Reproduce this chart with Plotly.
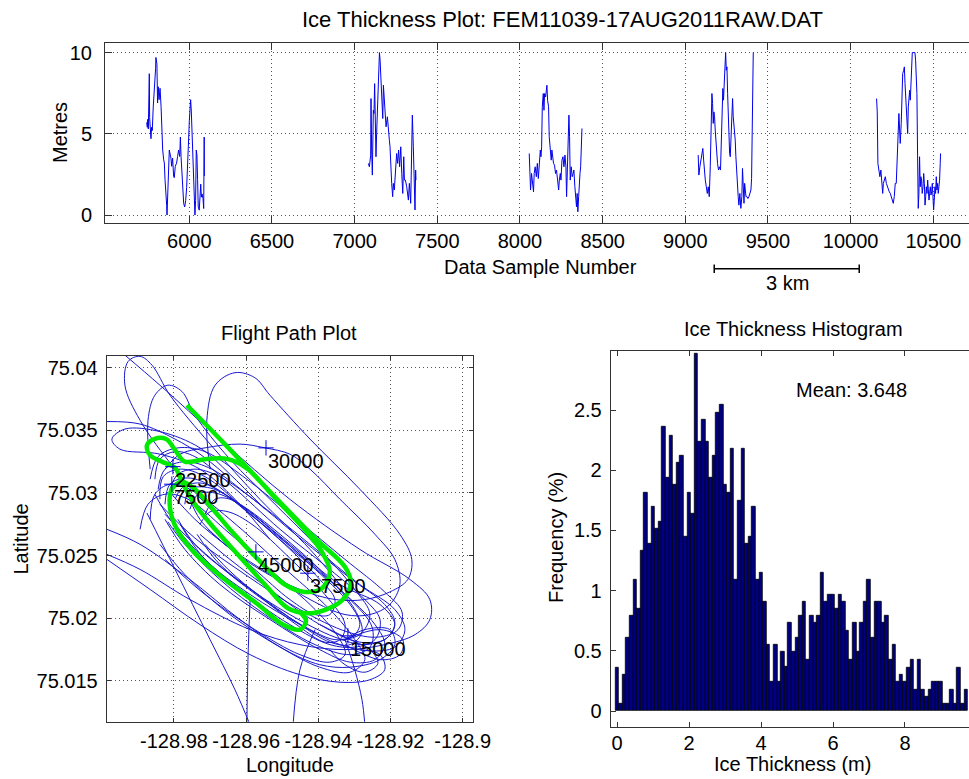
import plotly.graph_objects as go

FONT = "Liberation Sans, Arial, Helvetica, sans-serif"
W, H = 969, 779

# ---------------- Ice thickness profile (top panel) ----------------
seg1 = [(5742, 5.7), (5746, 5.4), (5749, 5.9), (5752, 5.3), (5756, 7.5), (5758, 8.7), (5760, 6.0), (5764, 5.0),
        (5768, 4.7), (5772, 5.4), (5776, 5.2), (5782, 6.7), (5788, 7.5), (5792, 8.1), (5796, 9.0), (5798, 9.7),
        (5801, 9.5), (5804, 9.3), (5808, 6.9), (5812, 7.9), (5817, 7.1), (5823, 7.8), (5829, 6.7), (5833, 5.0),
        (5839, 4.0), (5845, 3.4), (5849, 3.2), (5853, 2.2), (5859, 1.5), (5863, 0.6), (5865, 0.0), (5869, 1.1),
        (5873, 2.6), (5879, 4.0), (5885, 3.7), (5889, 3.5), (5893, 3.0), (5899, 3.5), (5905, 2.4), (5909, 2.3),
        (5915, 3.0), (5923, 3.2), (5929, 3.6), (5935, 4.0), (5942, 3.6), (5946, 4.8), (5950, 3.6), (5954, 3.0),
        (5960, 2.2), (5966, 0.7), (5972, 0.5), (5978, 0.9), (5984, 1.7), (5990, 2.8), (5994, 4.2), (6000, 5.8),
        (6004, 7.0), (6008, 7.1), (6012, 6.4), (6018, 4.9), (6022, 3.8), (6026, 2.2), (6030, 1.1), (6034, 0.0),
        (6038, 0.9), (6042, 4.0), (6046, 3.7), (6050, 2.2), (6054, 0.5), (6060, 0.3), (6065, 1.3), (6069, 1.9),
        (6073, 1.1), (6077, 1.3), (6083, 1.0), (6087, 0.4), (6090, 4.8), (6091, 2.4)]
seg2 = [(7083, 3.18), (7089, 2.97), (7097, 3.69), (7099, 7.17), (7103, 4.0), (7107, 2.46), (7113, 6.45),
        (7117, 6.25), (7121, 8.09), (7125, 4.82), (7129, 3.59), (7133, 5.02), (7137, 6.05), (7143, 8.71),
        (7150, 10.0), (7154, 9.53), (7160, 8.09), (7166, 6.86), (7170, 5.94), (7174, 7.99), (7180, 7.07),
        (7184, 6.25), (7190, 5.43), (7198, 6.05), (7204, 5.02), (7210, 4.61), (7214, 4.20), (7218, 2.97),
        (7224, 1.95), (7230, 1.13), (7234, 1.95), (7240, 1.54), (7246, 2.56), (7250, 2.97), (7254, 3.79),
        (7260, 3.18), (7266, 4.0), (7272, 2.97), (7279, 4.2), (7285, 2.56), (7291, 1.33), (7297, 3.59),
        (7301, 2.15), (7307, 2.15), (7315, 1.74), (7325, 0.92), (7331, 1.95), (7339, 0.72), (7345, 2.97),
        (7349, 6.15), (7355, 4.2), (7361, 1.54), (7365, 0.31), (7369, 2.77), (7371, 2.15)]
seg3 = [(8056, 3.79), (8060, 2.15), (8064, 1.54), (8070, 2.56), (8076, 1.74), (8082, 1.43), (8086, 2.56),
        (8092, 2.97), (8099, 2.36), (8105, 3.18), (8111, 2.25), (8117, 3.18), (8123, 4.0), (8127, 3.59),
        (8131, 4.2), (8135, 6.66), (8141, 7.48), (8145, 6.45), (8149, 7.48), (8155, 7.27), (8159, 7.68),
        (8163, 7.99), (8167, 7.07), (8173, 6.66), (8177, 4.82), (8183, 4.2), (8189, 3.38), (8193, 4.0),
        (8197, 3.59), (8203, 3.18), (8209, 3.07), (8215, 2.56), (8221, 2.77), (8228, 1.95), (8234, 1.54),
        (8238, 2.15), (8244, 2.56), (8248, 2.15), (8254, 3.38), (8260, 3.59), (8266, 2.97), (8272, 3.69),
        (8278, 2.97), (8282, 1.13), (8286, 2.36), (8292, 3.59), (8296, 6.15), (8300, 4.82), (8304, 2.15),
        (8310, 2.97), (8316, 2.36), (8322, 2.56), (8326, 2.77), (8332, 1.74), (8338, 0.92), (8342, 0.51),
        (8346, 1.33), (8350, 0.2), (8355, 1.13), (8359, 2.15), (8363, 2.56), (8367, 2.97), (8371, 4.0),
        (8375, 5.33)]
seg4 = [(9078, 3.69), (9082, 2.46), (9088, 2.97), (9094, 3.38), (9100, 3.69), (9106, 4.1), (9111, 3.38),
        (9115, 2.56), (9121, 2.15), (9127, 1.74), (9133, 1.33), (9139, 1.74), (9145, 1.13), (9151, 2.97),
        (9157, 5.64), (9161, 7.48), (9165, 6.86), (9169, 5.64), (9173, 6.35), (9177, 6.05), (9181, 5.23),
        (9185, 4.61), (9189, 3.59), (9195, 3.18), (9201, 2.77), (9207, 2.97), (9213, 2.77), (9219, 4.82),
        (9223, 6.66), (9227, 7.79), (9231, 7.07), (9235, 8.40), (9240, 9.53), (9244, 10.0), (9248, 8.91),
        (9252, 9.12), (9256, 7.48), (9260, 6.05), (9264, 4.61), (9268, 3.79), (9272, 3.59), (9276, 4.61),
        (9280, 6.05), (9286, 7.17), (9290, 6.05), (9294, 5.64), (9298, 5.23), (9302, 4.61), (9306, 3.59),
        (9310, 2.56), (9316, 2.15), (9320, 1.13), (9324, 0.61), (9330, 1.33), (9336, 0.41), (9342, 1.13),
        (9346, 2.87), (9350, 1.74), (9355, 0.72), (9359, 1.95), (9363, 1.54), (9367, 1.13), (9373, 1.13),
        (9379, 1.02), (9385, 1.13), (9391, 1.33), (9397, 1.54), (9401, 2.25), (9405, 4.61), (9409, 7.68),
        (9411, 10.0)]
seg5 = [(10157, 7.17), (10161, 6.35), (10165, 3.18), (10171, 2.56), (10177, 2.36), (10183, 2.77), (10188, 1.74),
        (10194, 1.33), (10198, 1.95), (10204, 2.15), (10210, 2.36), (10216, 1.95), (10222, 1.74), (10228, 1.54),
        (10234, 1.43), (10240, 1.33), (10246, 1.13), (10252, 1.02), (10258, 0.72), (10264, 1.13), (10270, 1.95),
        (10276, 1.95), (10280, 2.77), (10286, 4.61), (10292, 6.25), (10296, 5.23), (10300, 4.41), (10306, 5.64),
        (10310, 7.07), (10315, 8.71), (10321, 8.91), (10325, 9.12), (10329, 8.09), (10333, 7.27), (10337, 6.66),
        (10341, 6.05), (10345, 5.02), (10349, 6.66), (10353, 7.17), (10357, 7.68), (10361, 7.07), (10365, 8.50),
        (10369, 9.53), (10373, 10.0), (10379, 10.0), (10385, 10.0), (10389, 10.0), (10393, 9.53), (10397, 8.30),
        (10401, 7.48), (10405, 3.69), (10409, 0.41), (10413, 1.33), (10417, 3.59), (10421, 1.74), (10425, 2.36),
        (10429, 2.15), (10433, 1.33), (10438, 1.74), (10442, 2.56), (10446, 1.95), (10450, 0.61), (10454, 1.13),
        (10458, 1.74), (10462, 1.33), (10466, 2.15), (10470, 1.54), (10474, 0.92), (10478, 1.33), (10482, 1.74),
        (10486, 1.23), (10490, 1.43), (10494, 1.95), (10498, 1.13), (10502, 0.31), (10506, 0.92), (10510, 1.74),
        (10514, 1.33), (10518, 2.36), (10522, 1.54), (10526, 1.95), (10530, 1.33), (10534, 1.74), (10538, 2.15),
        (10542, 3.18), (10544, 3.79)]
profile_segments = [seg1, seg2, seg3, seg4, seg5]
sample_ticks = [6000, 6500, 7000, 7500, 8000, 8500, 9000, 9500, 10000, 10500]
sample_ticktext = ["6000", "6500", "7000", "7500", "8000", "8500", "9000", "9500", "10000", "10500"]
metre_ticks = [0, 5, 10]
scale_bar_samples = [9175, 10052]   # 3 km

# ---------------- Flight path (lon, lat) ----------------
flight_loops = [
    [(-128.9936, 75.0410), (-128.9839, 75.0386), (-128.9673, 75.0343), (-128.9479, 75.0295), (-128.9285, 75.0255),
     (-128.9146, 75.0231), (-128.9091, 75.0215), (-128.9091, 75.0199), (-128.9132, 75.0187), (-128.9216, 75.0179),
     (-128.9326, 75.0175), (-128.9451, 75.0179), (-128.9589, 75.0191), (-128.9756, 75.0215), (-128.9894, 75.0239),
     (-128.9986, 75.0251)],
    [(-128.9700, 75.0319), (-128.9709, 75.0358), (-128.9686, 75.0386), (-128.9631, 75.0396), (-128.9576, 75.0392),
     (-128.9534, 75.0378), (-128.9423, 75.0343), (-128.9285, 75.0303), (-128.9174, 75.0267), (-128.9141, 75.0247),
     (-128.9152, 75.0231), (-128.9202, 75.0221), (-128.9271, 75.0215), (-128.9354, 75.0215), (-128.9451, 75.0223),
     (-128.9562, 75.0239), (-128.9659, 75.0259), (-128.9728, 75.0279), (-128.9756, 75.0295)],
    [(-128.9548, 75.0287), (-128.9645, 75.0315), (-128.9728, 75.0336), (-128.9839, 75.0349), (-128.9936, 75.0351),
     (-128.9972, 75.0343), (-128.9950, 75.0335), (-128.9839, 75.0331), (-128.9728, 75.0319), (-128.9631, 75.0295),
     (-128.9534, 75.0263)],
    [(-128.9673, 75.0279), (-128.9797, 75.0319), (-128.9894, 75.0358), (-128.9936, 75.0386), (-128.9927, 75.0405),
     (-128.9894, 75.0409), (-128.9861, 75.0402), (-128.9811, 75.0378), (-128.9700, 75.0339), (-128.9562, 75.0295),
     (-128.9423, 75.0255), (-128.9340, 75.0227)],
    [(-128.9853, 75.0311), (-128.9839, 75.0327), (-128.9797, 75.0333), (-128.9742, 75.0329), (-128.9645, 75.0307),
     (-128.9506, 75.0271), (-128.9368, 75.0239), (-128.9271, 75.0215), (-128.9229, 75.0199), (-128.9243, 75.0183),
     (-128.9299, 75.0177), (-128.9368, 75.0179), (-128.9479, 75.0195), (-128.9617, 75.0223), (-128.9728, 75.0251),
     (-128.9811, 75.0279), (-128.9853, 75.0299)],
    [(-128.9839, 75.0295), (-128.9830, 75.0313), (-128.9783, 75.0319), (-128.9714, 75.0313), (-128.9603, 75.0287),
     (-128.9479, 75.0256), (-128.9340, 75.0223), (-128.9243, 75.0195), (-128.9216, 75.0179), (-128.9243, 75.0167),
     (-128.9312, 75.0165), (-128.9396, 75.0175), (-128.9534, 75.0199), (-128.9673, 75.0227), (-128.9770, 75.0255),
     (-128.9825, 75.0279)],
    [(-128.9866, 75.0279), (-128.9853, 75.0299), (-128.9811, 75.0307), (-128.9756, 75.0303), (-128.9645, 75.0279),
     (-128.9506, 75.0243), (-128.9368, 75.0207), (-128.9299, 75.0183), (-128.9271, 75.0167), (-128.9312, 75.0157),
     (-128.9396, 75.0161), (-128.9506, 75.0177), (-128.9645, 75.0203), (-128.9770, 75.0235), (-128.9839, 75.0259)],
    [(-128.9811, 75.0303), (-128.9789, 75.0315), (-128.9742, 75.0319), (-128.9673, 75.0313), (-128.9562, 75.0291),
     (-128.9423, 75.0259), (-128.9285, 75.0227), (-128.9188, 75.0207), (-128.9160, 75.0191), (-128.9188, 75.0177),
     (-128.9257, 75.0174), (-128.9340, 75.0179), (-128.9451, 75.0195), (-128.9589, 75.0219), (-128.9714, 75.0247),
     (-128.9783, 75.0275)],
    [(-128.9797, 75.0295), (-128.9778, 75.0304), (-128.9728, 75.0308), (-128.9659, 75.0299), (-128.9548, 75.0275),
     (-128.9423, 75.0243), (-128.9312, 75.0211), (-128.9285, 75.0195), (-128.9307, 75.0185), (-128.9354, 75.0183),
     (-128.9423, 75.0191), (-128.9534, 75.0211), (-128.9645, 75.0235), (-128.9742, 75.0259), (-128.9789, 75.0279)],
    [(-128.9714, 75.0283), (-128.9686, 75.0295), (-128.9645, 75.0295), (-128.9589, 75.0283), (-128.9493, 75.0259),
     (-128.9396, 75.0231), (-128.9354, 75.0215), (-128.9368, 75.0203), (-128.9409, 75.0203), (-128.9479, 75.0215),
     (-128.9576, 75.0239), (-128.9659, 75.0259), (-128.9706, 75.0271)],
    [(-128.9825, 75.0319), (-128.9783, 75.0331), (-128.9714, 75.0336), (-128.9617, 75.0339), (-128.9548, 75.0336),
     (-128.9479, 75.0331), (-128.9423, 75.0319), (-128.9340, 75.0295), (-128.9243, 75.0267), (-128.9188, 75.0247),
     (-128.9174, 75.0227), (-128.9202, 75.0211), (-128.9257, 75.0203), (-128.9326, 75.0203), (-128.9423, 75.0215),
     (-128.9534, 75.0235), (-128.9645, 75.0256), (-128.9742, 75.0279), (-128.9806, 75.0299)],
    [(-128.9986, 75.0271), (-128.9894, 75.0259), (-128.9756, 75.0231), (-128.9617, 75.0199), (-128.9493, 75.0175),
     (-128.9396, 75.0163), (-128.9312, 75.0161), (-128.9229, 75.0167), (-128.9188, 75.0179), (-128.9202, 75.0191),
     (-128.9271, 75.0191), (-128.9326, 75.0183)],
    [(-128.9986, 75.0247), (-128.9866, 75.0223), (-128.9728, 75.0195), (-128.9589, 75.0171), (-128.9451, 75.0155),
     (-128.9340, 75.0149), (-128.9257, 75.0151), (-128.9216, 75.0159), (-128.9229, 75.0171), (-128.9285, 75.0175)],
    [(-128.9326, 75.0183), (-128.9299, 75.0159), (-128.9279, 75.0135), (-128.9271, 75.0115)],
    [(-128.9409, 75.0191), (-128.9451, 75.0159), (-128.9470, 75.0115)],
    [(-128.9589, 75.0215), (-128.9595, 75.0167), (-128.9598, 75.0115)],
    [(-128.9986, 75.0357), (-128.9894, 75.0355), (-128.9797, 75.0343), (-128.9728, 75.0331), (-128.9659, 75.0315)],
    [(-128.9875, 75.0284), (-128.9797, 75.0239), (-128.9700, 75.0183), (-128.9631, 75.0143), (-128.9589, 75.0115)],
    [(-128.9396, 75.0195), (-128.9312, 75.0183), (-128.9257, 75.0175), (-128.9235, 75.0164), (-128.9271, 75.0157),
     (-128.9326, 75.0163), (-128.9368, 75.0175)],
    [(-128.9326, 75.0183), (-128.9229, 75.0191), (-128.9166, 75.0183), (-128.9174, 75.0171), (-128.9229, 75.0167),
     (-128.9326, 75.0179)],
    [(-128.9770, 75.0291), (-128.9756, 75.0303), (-128.9700, 75.0304), (-128.9617, 75.0291), (-128.9479, 75.0259),
     (-128.9340, 75.0227), (-128.9229, 75.0211), (-128.9188, 75.0195), (-128.9216, 75.0183), (-128.9285, 75.0181),
     (-128.9396, 75.0195), (-128.9534, 75.0223), (-128.9645, 75.0247), (-128.9728, 75.0267)],
    [(-128.9866, 75.0319), (-128.9872, 75.0358), (-128.9853, 75.0378), (-128.9817, 75.0386), (-128.9778, 75.0381),
     (-128.9742, 75.0362), (-128.9645, 75.0327), (-128.9520, 75.0291), (-128.9396, 75.0255), (-128.9299, 75.0223),
     (-128.9257, 75.0203), (-128.9285, 75.0187), (-128.9340, 75.0183)],
    [(-128.9825, 75.0291), (-128.9811, 75.0307), (-128.9761, 75.0312), (-128.9686, 75.0304), (-128.9576, 75.0280),
     (-128.9451, 75.0251), (-128.9326, 75.0219), (-128.9251, 75.0193), (-128.9257, 75.0177), (-128.9312, 75.0171),
     (-128.9409, 75.0179), (-128.9548, 75.0203), (-128.9673, 75.0231), (-128.9770, 75.0259), (-128.9817, 75.0277)],
    [(-128.9844, 75.0303), (-128.9825, 75.0319), (-128.9770, 75.0325), (-128.9695, 75.0319), (-128.9589, 75.0297),
     (-128.9451, 75.0264), (-128.9312, 75.0232), (-128.9216, 75.0211), (-128.9188, 75.0197), (-128.9207, 75.0185),
     (-128.9271, 75.0179), (-128.9354, 75.0185), (-128.9479, 75.0203), (-128.9617, 75.0229), (-128.9742, 75.0259),
     (-128.9825, 75.0283)],
    [(-128.9756, 75.0287), (-128.9733, 75.0299), (-128.9686, 75.0300), (-128.9617, 75.0291), (-128.9506, 75.0267),
     (-128.9382, 75.0235), (-128.9299, 75.0207), (-128.9279, 75.0189), (-128.9312, 75.0179), (-128.9368, 75.0181),
     (-128.9451, 75.0195), (-128.9576, 75.0221), (-128.9673, 75.0243), (-128.9736, 75.0267)],
    [(-128.9894, 75.0271), (-128.9872, 75.0291), (-128.9825, 75.0299), (-128.9761, 75.0295), (-128.9659, 75.0271),
     (-128.9534, 75.0239), (-128.9409, 75.0207), (-128.9340, 75.0183), (-128.9326, 75.0171), (-128.9368, 75.0165),
     (-128.9451, 75.0171), (-128.9576, 75.0191), (-128.9714, 75.0219), (-128.9825, 75.0247)],
    [(-128.9728, 75.0275), (-128.9700, 75.0285), (-128.9650, 75.0285), (-128.9584, 75.0275), (-128.9479, 75.0248),
     (-128.9382, 75.0219), (-128.9326, 75.0195), (-128.9340, 75.0183), (-128.9382, 75.0181), (-128.9451, 75.0193),
     (-128.9556, 75.0216), (-128.9650, 75.0239), (-128.9714, 75.0259)],
    [(-128.9866, 75.0311), (-128.9844, 75.0329), (-128.9789, 75.0336), (-128.9714, 75.0333), (-128.9603, 75.0312),
     (-128.9465, 75.0280), (-128.9326, 75.0247), (-128.9216, 75.0221), (-128.9168, 75.0205), (-128.9179, 75.0191),
     (-128.9235, 75.0185), (-128.9318, 75.0189), (-128.9451, 75.0207), (-128.9603, 75.0235), (-128.9742, 75.0264),
     (-128.9839, 75.0291)],
]
survey_track = [
    (-128.9764, 75.0370), (-128.9659, 75.0339), (-128.9534, 75.0301), (-128.9409, 75.0264), (-128.9326, 75.0241),
    (-128.9310, 75.0228), (-128.9332, 75.0215), (-128.9379, 75.0207), (-128.9432, 75.0204), (-128.9484, 75.0208),
    (-128.9548, 75.0227), (-128.9617, 75.0249), (-128.9686, 75.0271), (-128.9742, 75.0291), (-128.9775, 75.0307),
    (-128.9797, 75.0320), (-128.9833, 75.0325), (-128.9866, 75.0330), (-128.9875, 75.0338), (-128.9855, 75.0343),
    (-128.9822, 75.0343), (-128.9794, 75.0333), (-128.9770, 75.0325), (-128.9714, 75.0327), (-128.9650, 75.0327),
    (-128.9595, 75.0319), (-128.9520, 75.0296), (-128.9445, 75.0273), (-128.9390, 75.0253), (-128.9368, 75.0237),
    (-128.9390, 75.0224), (-128.9437, 75.0221), (-128.9493, 75.0227), (-128.9567, 75.0247), (-128.9639, 75.0269),
    (-128.9695, 75.0288), (-128.9742, 75.0303), (-128.9778, 75.0309), (-128.9806, 75.0303), (-128.9811, 75.0288),
    (-128.9792, 75.0271), (-128.9742, 75.0252), (-128.9659, 75.0231), (-128.9567, 75.0211), (-128.9498, 75.0195),
    (-128.9451, 75.0191), (-128.9434, 75.0198), (-128.9451, 75.0205)]
marker_labels = ["30000", "22500", "7500", "45000", "37500", "15000"]
marker_lon = [-128.9545, -128.9803, -128.9806, -128.9573, -128.9429, -128.9318]
marker_lat = [75.0336, 75.0321, 75.0307, 75.0253, 75.0236, 75.0186]
lon_ticks = [-128.98, -128.96, -128.94, -128.92, -128.9]
lon_ticktext = ["-128.98", "-128.96", "-128.94", "-128.92", "-128.9"]
lat_ticks = [75.015, 75.02, 75.025, 75.03, 75.035, 75.04]
lat_ticktext = ["75.015", "75.02", "75.025", "75.03", "75.035", "75.04"]

# ---------------- Histogram ----------------
bin_centres = [0.0, 0.1, 0.2, 0.3, 0.4, 0.5, 0.6, 0.7, 0.8, 0.9,
               1.0, 1.1, 1.2, 1.3, 1.4, 1.5, 1.6, 1.7, 1.8, 1.9,
               2.0, 2.1, 2.2, 2.3, 2.4, 2.5, 2.6, 2.7, 2.8, 2.9,
               3.0, 3.1, 3.2, 3.3, 3.4, 3.5, 3.6, 3.7, 3.8, 3.9,
               4.0, 4.1, 4.2, 4.3, 4.4, 4.5, 4.6, 4.7, 4.8, 4.9,
               5.0, 5.1, 5.2, 5.3, 5.4, 5.5, 5.6, 5.7, 5.8, 5.9,
               6.0, 6.1, 6.2, 6.3, 6.4, 6.5, 6.6, 6.7, 6.8, 6.9,
               7.0, 7.1, 7.2, 7.3, 7.4, 7.5, 7.6, 7.7, 7.8, 7.9,
               8.0, 8.1, 8.2, 8.3, 8.4, 8.5, 8.6, 8.7, 8.8, 8.9,
               9.0, 9.1, 9.2, 9.3, 9.4, 9.5, 9.6, 9.7]
frequency_pct = [0.36, 0.06, 0.30, 0.61, 0.79, 1.09, 0.85, 1.33, 1.81, 1.39,
                 1.70, 1.51, 1.57, 2.36, 1.94, 2.29, 1.88, 2.06, 2.12, 1.45,
                 1.81, 1.64, 2.97, 2.24, 2.42, 2.24, 1.94, 2.12, 2.48, 2.54,
                 1.88, 1.81, 2.18, 1.09, 1.75, 2.18, 1.39, 1.45, 1.70, 1.09,
                 1.15, 0.91, 0.55, 0.24, 0.55, 0.24, 0.49, 0.37, 0.73, 0.49,
                 0.61, 0.79, 0.91, 0.43, 0.79, 0.73, 0.79, 1.15, 0.91, 0.97,
                 0.97, 0.85, 0.97, 0.91, 0.67, 0.43, 0.73, 0.49, 0.73, 0.91,
                 1.09, 0.61, 0.91, 0.91, 0.73, 0.79, 0.43, 0.55, 0.24, 0.30,
                 0.24, 0.36, 0.43, 0.18, 0.43, 0.18, 0.12, 0.18, 0.24, 0.24,
                 0.24, 0.06, 0.06, 0.18, 0.06, 0.36, 0.06, 0.18]
hist_x_ticks = [0, 2, 4, 6, 8]
hist_y_ticks = [0, 0.5, 1, 1.5, 2, 2.5]
mean_text = "Mean: 3.648"


def px(x):
    return x / W


def py(y):
    return 1 - y / H


fig = go.Figure()

for seg in profile_segments:
    fig.add_trace(go.Scatter(x=[p[0] for p in seg], y=[p[1] for p in seg], mode="lines",
                             line=dict(color="rgb(0,0,235)", width=1), xaxis="x", yaxis="y",
                             hoverinfo="skip", showlegend=False))

fl_x, fl_y = [], []
for loop in flight_loops:
    fl_x += [p[0] for p in loop] + [None]
    fl_y += [p[1] for p in loop] + [None]
fig.add_trace(go.Scatter(x=fl_x, y=fl_y, mode="lines", connectgaps=False,
                         line=dict(color="rgb(25,25,205)", width=1, shape="spline", smoothing=1.0),
                         xaxis="x2", yaxis="y2", hoverinfo="skip", showlegend=False))
fig.add_trace(go.Scatter(x=[p[0] for p in survey_track], y=[p[1] for p in survey_track], mode="lines",
                         line=dict(color="rgb(0,235,0)", width=4.5, shape="spline", smoothing=1.0),
                         xaxis="x2", yaxis="y2", hoverinfo="skip", showlegend=False))
fig.add_trace(go.Scatter(x=marker_lon, y=marker_lat, mode="markers",
                         marker=dict(symbol="cross-thin", size=11, line=dict(color="rgb(0,0,220)", width=1)),
                         xaxis="x2", yaxis="y2", hoverinfo="skip", showlegend=False))

fig.add_trace(go.Bar(x=bin_centres, y=frequency_pct, width=0.1,
                     marker=dict(color="rgb(0,0,128)", line=dict(color="black", width=0.8)),
                     xaxis="x3", yaxis="y3", hoverinfo="skip", showlegend=False))

tickfont = dict(family=FONT, size=20, color="black")
axis_common = dict(showline=True, linecolor="#333", linewidth=1, ticks="inside", tickcolor="#333",
                   zeroline=False, tickfont=tickfont, automargin=False)
grid = dict(showgrid=True, gridcolor="#555", gridwidth=1, griddash="1px,3px")

fig.update_layout(
    width=W, height=H, autosize=False, margin=dict(l=0, r=0, t=0, b=0, pad=0),
    paper_bgcolor="white", plot_bgcolor="white", showlegend=False, bargap=0, hovermode=False,
    font=dict(family=FONT, size=20, color="black"),
    xaxis=dict(domain=[px(105), 1.0], range=[5490, 10716], tickvals=sample_ticks, ticktext=sample_ticktext,
               ticklen=7, mirror="ticks", anchor="y", ticklabelstandoff=0, **grid, **axis_common),
    yaxis=dict(domain=[py(223), py(43)], range=[-0.49, 10.59], tickvals=metre_ticks, ticklen=7,
               anchor="x", ticklabelstandoff=8, **grid, **axis_common),
    xaxis2=dict(domain=[px(106.7), px(473.3)], range=[-128.99865, -128.89705], tickvals=lon_ticks,
                ticktext=lon_ticktext, ticklen=4, mirror="ticks", anchor="y2", ticklabelstandoff=1,
                **grid, **axis_common),
    yaxis2=dict(domain=[py(721.7), py(356)], range=[75.01175, 75.04093], tickvals=lat_ticks,
                ticktext=lat_ticktext, ticklen=4, mirror="ticks", anchor="x2", ticklabelstandoff=4,
                **grid, **axis_common),
    xaxis3=dict(domain=[px(610.7), 1.0], range=[-0.175, 9.778], tickvals=hist_x_ticks, ticklen=5,
                mirror="ticks", anchor="y3", showgrid=False, ticklabelstandoff=-2, **axis_common),
    yaxis3=dict(domain=[py(727.3), py(350.7)], range=[-0.1354, 2.9925], tickvals=hist_y_ticks, ticklen=5,
                anchor="x3", showgrid=False, ticklabelstandoff=4, **axis_common),
)

ann = []


def label(text, x, y, angle=0, xanchor="center", yanchor="middle", xref="paper", yref="paper", size=20):
    ann.append(dict(text=text, x=x, y=y, xref=xref, yref=yref, showarrow=False, textangle=angle,
                    xanchor=xanchor, yanchor=yanchor, font=dict(family=FONT, size=size, color="black")))


label("Ice Thickness Plot: FEM11039-17AUG2011RAW.DAT", px(562), py(20), size=22)
label("Metres", px(60), py(133), angle=-90)
label("Data Sample Number", px(540), py(267))
label("3 km", px(787.5), py(283))
label("Flight Path Plot", px(289), py(333))
label("Latitude", px(20.5), py(539), angle=-90)
label("Longitude", px(289.5), py(765))
label("Ice Thickness Histogram", px(793), py(329))
label("Frequency (%)", px(556), py(538), angle=-90)
label("Ice Thickness (m)", px(792.6), py(764))
label(mean_text, 4.93, 2.67, xanchor="left", xref="x3", yref="y3")
for t, lo, la in zip(marker_labels, marker_lon, marker_lat):
    label(t, lo, la, xanchor="left", yanchor="top", xref="x2", yref="y2")
fig.update_layout(annotations=ann)

# scale bar (3 km) under the profile
sb0, sb1 = scale_bar_samples
fig.add_shape(type="line", xref="x", yref="paper", x0=sb0, x1=sb1, y0=py(268.7), y1=py(268.7),
              line=dict(color="black", width=1.5))
for xv in scale_bar_samples:
    fig.add_shape(type="line", xref="x", yref="paper", x0=xv, x1=xv, y0=py(264.5), y1=py(273),
                  line=dict(color="black", width=1.5))

fig.write_html(
    "out.html",
    config={"responsive": False, "displayModeBar": False},
    post_script="document.documentElement.style.overflow='hidden';"
                "document.body.style.overflow='hidden';document.body.style.margin='0';",
)
